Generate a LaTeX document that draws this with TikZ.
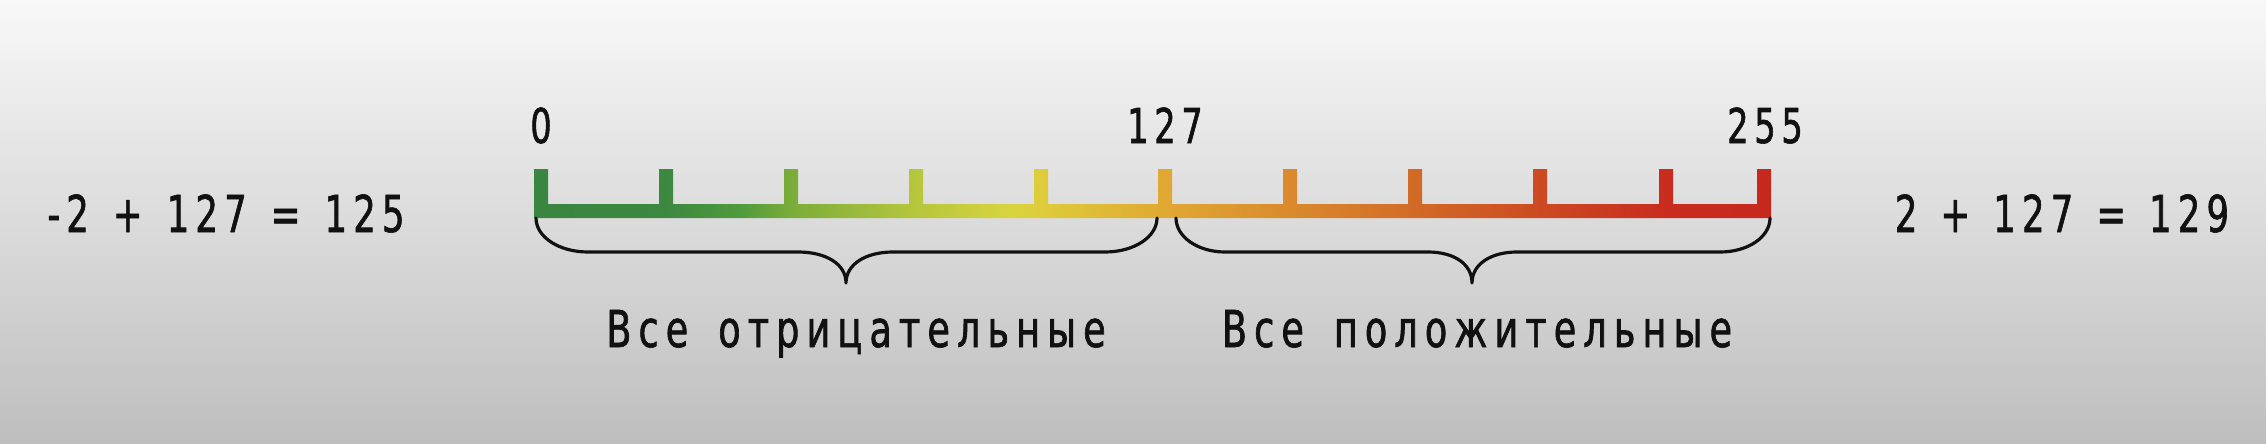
\documentclass[tikz,border=0pt]{standalone}
\usepackage{fontspec}
\setmainfont{DejaVu Sans}
\newfontfamily\numfont[FakeStretch=0.7,LetterSpace=12,FakeBold=1.2]{DejaVu Sans}
\newfontfamily\lblfont[FakeStretch=0.72,LetterSpace=14,FakeBold=1.3]{DejaVu Sans}
\pgfdeclarehorizontalshading{barshade}{100bp}{%
rgb(0bp)=(0.227,0.522,0.251);
rgb(25bp)=(0.227,0.522,0.251);
rgb(30.35bp)=(0.235,0.533,0.251);
rgb(33.35bp)=(0.314,0.608,0.235);
rgb(35.35bp)=(0.478,0.675,0.227);
rgb(40.4bp)=(0.714,0.776,0.235);
rgb(44.25bp)=(0.847,0.831,0.243);
rgb(45.45bp)=(0.871,0.8,0.227);
rgb(50.5bp)=(0.878,0.659,0.196);
rgb(55.55bp)=(0.855,0.541,0.173);
rgb(60.6bp)=(0.824,0.416,0.149);
rgb(65.65bp)=(0.8,0.29,0.133);
rgb(70.7bp)=(0.784,0.173,0.118);
rgb(75bp)=(0.776,0.157,0.118);
rgb(100bp)=(0.776,0.157,0.118)}
\definecolor{ink}{HTML}{111111}
\definecolor{bgtop}{HTML}{F8F8F8}
\definecolor{bgbot}{HTML}{BEBEBE}
\tikzset{
  numtext/.style={inner sep=0pt, anchor=base, text=ink, font=\numfont\fontsize{48}{56}\selectfont},
  eqtext/.style={inner sep=0pt, anchor=base, text=ink, font=\numfont\fontsize{50.8}{60}\selectfont},
  lbltext/.style={inner sep=0pt, anchor=base, text=ink, font=\lblfont\fontsize{50.8}{60}\selectfont},
  bracestroke/.style={draw=ink, line width=3.2pt, line cap=round, line join=round}
}
\begin{document}
\begin{tikzpicture}[x=1pt,y=-1pt]
\useasboundingbox (0,0) rectangle (2266,444);
\shade[top color=bgtop, bottom color=bgbot] (0,0) rectangle (2266,444);
% comb bar
\shade[shading=barshade] (534,169) -- (548,169) -- (548,204)
  foreach \t in {659,784,909,1034,1158,1283,1408,1533,1659} { -- (\t,204) -- (\t,169) -- (\t+14,169) -- (\t+14,204) }
  -- (1757,204) -- (1757,169) -- (1771,169) -- (1771,218) -- (534,218) -- cycle;
% brace anchor points
\coordinate (lA) at (536,218);
\coordinate (lB) at (1157,218);
\coordinate (rA) at (1176,218);
\coordinate (rB) at (1770,218);
\draw[bracestroke] (lA) .. controls (536,237) and (559,252) .. (588,252) -- (798,252)
  .. controls (826,252) and (846,264) .. (846,283)
  .. controls (846,264) and (866,252) .. (893,252) -- (1105,252)
  .. controls (1134,252) and (1157,237) .. (lB);
\draw[bracestroke] (rA) .. controls (1176,237) and (1198,252) .. (1225,252) -- (1428,252)
  .. controls (1454,252) and (1472,264) .. (1472,283)
  .. controls (1472,264) and (1491,252) .. (1517,252) -- (1720,252)
  .. controls (1748,252) and (1770,237) .. (rB);
% numbers above
\node[numtext] (n0) at (541,143) {0};
\node[numtext] (n127) at (1165,143) {127};
\node[numtext] (n255) at (1765,143) {255};
% equations
\node[eqtext] (eqL) at (226,232) {-2\hspace{24pt}+\hspace{24pt}127\hspace{24pt}=\hspace{24pt}125};
\node[eqtext] (eqR) at (2062,232) {2\hspace{23pt}+\hspace{23pt}127\hspace{23pt}=\hspace{23pt}129};
% labels
\node[lbltext] (neg) at (856,347) {Все\hspace{30pt}отрицательные};
\node[lbltext] (pos) at (1477,347) {Все\hspace{30pt}положительные};
\end{tikzpicture}
\end{document}
